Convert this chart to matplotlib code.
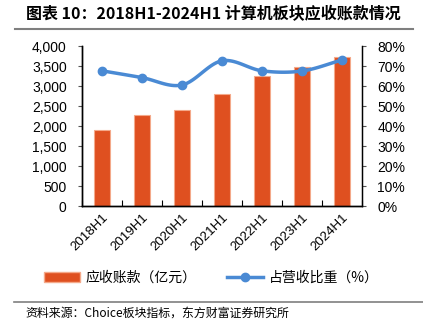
import numpy as np
import matplotlib
matplotlib.use("Agg")
import matplotlib.pyplot as plt
from matplotlib.lines import Line2D
from matplotlib.patches import Patch

plt.rcParams['font.family'] = ['Liberation Sans', 'Noto Sans CJK SC', 'DejaVu Sans']

categories = ["2018H1", "2019H1", "2020H1", "2021H1", "2022H1", "2023H1", "2024H1"]
receivables = [1910, 2275, 2390, 2790, 3250, 3475, 3725]
ratio_pct = [67.6, 64.2, 60.5, 72.6, 67.6, 67.5, 73.0]
left_ticks = [0, 500, 1000, 1500, 2000, 2500, 3000, 3500, 4000]
right_ticks = [0, 10, 20, 30, 40, 50, 60, 70, 80]

title = "图表 10：2018H1-2024H1 计算机板块应收账款情况"
source = "资料来源：Choice板块指标，东方财富证券研究所"
bar_label = "应收账款（亿元）"
line_label = "占营收比重（%）"

bar_color = "#DF5020"
bar_edge = "#F4A98A"
line_color = "#4A8AD4"

fig = plt.figure(figsize=(4.23, 3.32), dpi=100)
W, H = 423, 332
ax = fig.add_axes([82 / W, (H - 206) / H, (362 - 82) / W, (206 - 46) / H])
ax2 = ax.twinx()

x = np.arange(len(categories))
ax.bar(x, receivables, width=0.42, color=bar_color, edgecolor=bar_edge, linewidth=0.8, zorder=2)
ax.set_xlim(-0.5, len(categories) - 0.5)
ax.set_ylim(0, 4000)
ax.set_yticks(left_ticks)
ax.set_yticklabels([f"{v:,}" for v in left_ticks], fontsize=10)
ax.set_xticks(x)
ax.set_xticklabels(categories, rotation=45, ha='right', va='top', rotation_mode='anchor', fontsize=9.5)
ax.tick_params(axis='x', length=0, pad=4)
ax.set_xticks(np.arange(-0.5, len(categories), 1), minor=True)
ax.tick_params(axis='x', which='minor', direction='in', length=4, width=0.8)
ax.tick_params(axis='y', direction='out', length=3, width=0.8, colors='#555555', labelcolor='black', pad=8)

# smooth line (Catmull-Rom through data points)
def catmull(xs, ys, n=20):
    xs = np.asarray(xs, float); ys = np.asarray(ys, float)
    px = np.concatenate([[2 * xs[0] - xs[1]], xs, [2 * xs[-1] - xs[-2]]])
    py = np.concatenate([[2 * ys[0] - ys[1]], ys, [2 * ys[-1] - ys[-2]]])
    ox, oy = [], []
    for i in range(1, len(px) - 2):
        t = np.linspace(0, 1, n, endpoint=False)
        for P, out in ((px, ox), (py, oy)):
            p0, p1, p2, p3 = P[i - 1], P[i], P[i + 1], P[i + 2]
            out.extend(0.5 * ((2 * p1) + (-p0 + p2) * t + (2 * p0 - 5 * p1 + 4 * p2 - p3) * t ** 2
                              + (-p0 + 3 * p1 - 3 * p2 + p3) * t ** 3))
    ox.append(xs[-1]); oy.append(ys[-1])
    return np.array(ox), np.array(oy)

sx, sy = catmull(x, ratio_pct)
ax2.plot(sx, sy, color=line_color, linewidth=2.5, zorder=3, solid_capstyle='round')
ax2.plot(x, ratio_pct, 'o', color=line_color, markersize=6, zorder=4)
ax2.set_ylim(0, 80)
ax2.set_yticks(right_ticks)
ax2.set_yticklabels([f"{v}%" for v in right_ticks], fontsize=10)
ax2.tick_params(axis='y', direction='out', length=3, width=0.8, colors='#555555', labelcolor='black', pad=8)

for a in (ax, ax2):
    a.spines['top'].set_visible(False)
for s in ('left', 'right', 'bottom'):
    ax2.spines[s].set_color('black')
    ax2.spines[s].set_linewidth(1.0)
ax.spines['left'].set_linewidth(1.0)
ax.spines['bottom'].set_linewidth(1.0)

handles = [Patch(facecolor=bar_color, edgecolor=bar_edge, label=bar_label),
           Line2D([0], [0], color=line_color, linewidth=2.5, marker='o', markersize=6, label=line_label)]
fig.legend(handles=handles, loc='center', bbox_to_anchor=(0.5, (H - 278) / H), ncol=2, frameon=False,
           prop={'family': ['Noto Sans CJK SC'], 'size': 10}, handlelength=2.6, columnspacing=2.2,
           handletextpad=0.4)

fig.text(26 / W, (H - 14) / H, title, fontsize=11.5, fontweight='bold', ha='left', va='center',
         family=['Noto Sans CJK SC', 'DejaVu Sans'])
fig.add_artist(Line2D([15 / W, 413 / W], [(H - 28.5) / H] * 2, color='#7F7F7F', linewidth=1.5))
fig.add_artist(Line2D([14 / W, 1.0], [(H - 302) / H] * 2, color='#7F7F7F', linewidth=1.2))
fig.text(25 / W, (H - 313) / H, source, fontsize=8.6, ha='left', va='center',
         family=['Noto Sans CJK SC', 'DejaVu Sans'])

fig.savefig("out.png", dpi=100)
